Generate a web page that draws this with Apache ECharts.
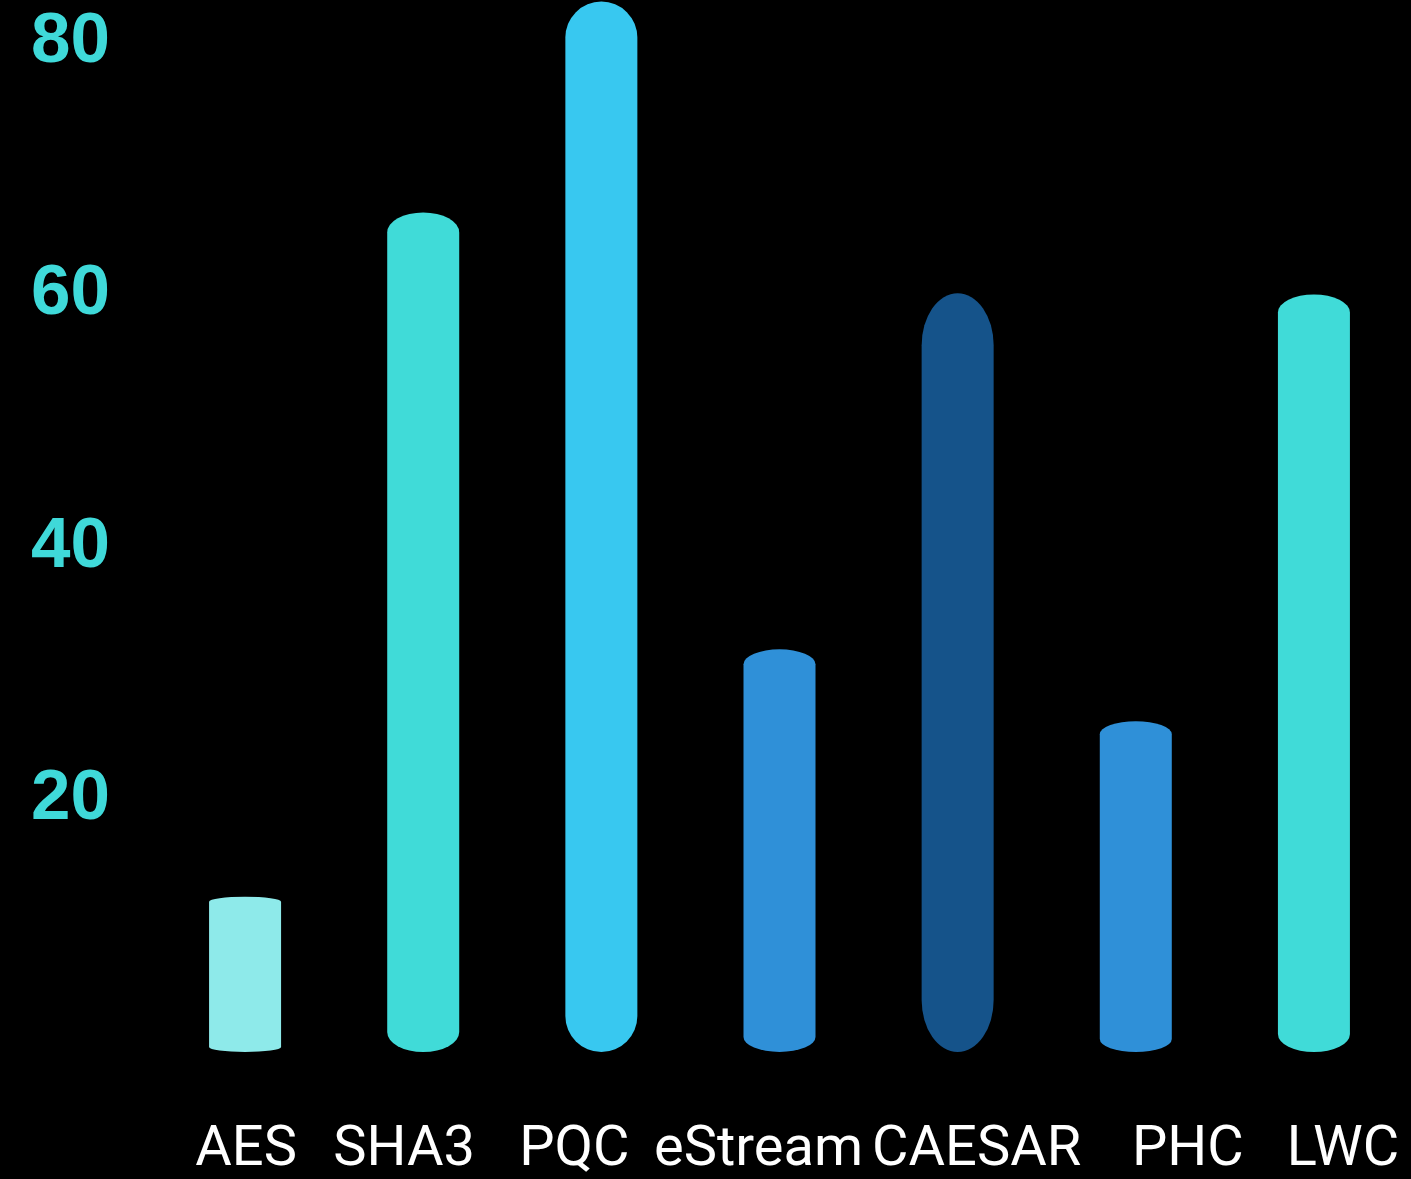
<!DOCTYPE html>
<html>
<head>
<meta charset="utf-8">
<script src="https://cdn.jsdelivr.net/npm/echarts@6/dist/echarts.min.js"></script>
<style>
  html, body { margin: 0; padding: 0; background: #000; }
  #chart { width: 1411px; height: 1179px; }
</style>
</head>
<body>
<div id="chart"></div>
<script>
// Competition programs and their values
const categories = ['AES', 'SHA3', 'PQC', 'eStream', 'CAESAR', 'PHC', 'LWC'];
const values = [12.3, 66.5, 83.2, 31.9, 60.1, 26.2, 60.0];
const yTicks = [20, 40, 60, 80];

// Per-bar look: fill colour and the height of the rounded end caps (px)
const barColors = ['#8eeaea', '#40dbd8', '#38c8f0', '#2f90d8', '#15538a', '#2f90d8', '#40dbd8'];
const capHeights = [5, 20, 36, 15, 52, 13, 18];
const BAR_WIDTH = 72;
// Horizontal nudge of each category label from its bar centre (px)
const labelShift = [1, -19, -27, -21, 19, 52, 29];

const chart = echarts.init(document.getElementById('chart'));

function renderCapsule(params, api) {
  const i = api.value(0);
  const top = api.coord([i, api.value(1)]);
  const base = api.coord([i, 0]);
  const w = BAR_WIDTH;
  const x0 = top[0] - w / 2;
  const x1 = top[0] + w / 2;
  const yTop = top[1];
  const yBot = base[1];
  const cap = Math.min(capHeights[i], (yBot - yTop) / 2);
  const rx = w / 2;
  const d = [
    'M', x0, yTop + cap,
    'A', rx, cap, 0, 0, 1, x1, yTop + cap,
    'L', x1, yBot - cap,
    'A', rx, cap, 0, 0, 1, x0, yBot - cap,
    'Z'
  ].join(' ');
  return {
    type: 'path',
    shape: { pathData: d },
    style: { fill: barColors[i] }
  };
}

const xAxisData = categories.map((name, i) => {
  const s = labelShift[i];
  return {
    value: name,
    textStyle: { padding: s >= 0 ? [0, 0, 0, 2 * s] : [0, -2 * s, 0, 0] }
  };
});

chart.setOption({
  backgroundColor: '#000000',
  animation: false,
  grid: { left: 156, right: 8, top: 42, bottom: 121 },
  xAxis: {
    type: 'category',
    data: xAxisData,
    axisLine: { show: false },
    axisTick: { show: false },
    axisLabel: {
      interval: 0,
      hideOverlap: false,
      color: '#ffffff',
      fontFamily: 'Roboto, sans-serif',
      fontSize: 56,
      margin: 71
    }
  },
  yAxis: {
    type: 'value',
    min: 0,
    max: 80,
    interval: 20,
    splitLine: { show: false },
    axisLine: { show: false },
    axisTick: { show: false },
    axisLabel: {
      color: '#3fd9d9',
      fontFamily: '"Liberation Sans", Arial, sans-serif',
      fontWeight: 'bold',
      fontSize: 71,
      margin: 46,
      formatter: v => (yTicks.indexOf(v) >= 0 ? String(v) : '')
    }
  },
  series: [{
    type: 'custom',
    clip: false,
    renderItem: renderCapsule,
    encode: { x: 0, y: 1 },
    data: values.map((v, i) => [i, v])
  }]
});
</script>
</body>
</html>
